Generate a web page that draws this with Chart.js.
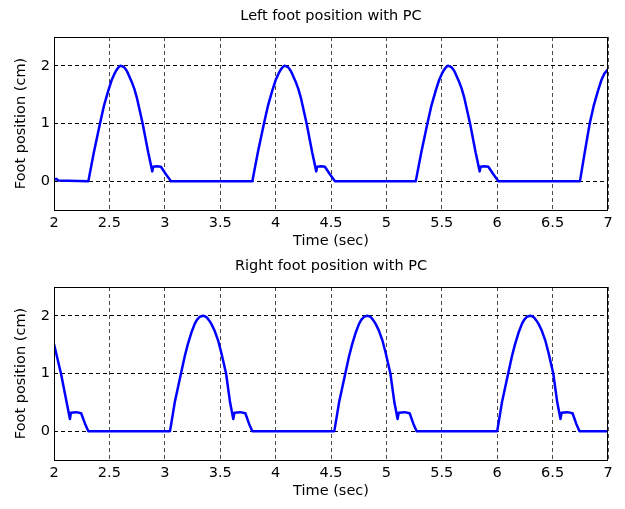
<!DOCTYPE html>
<html>
<head>
<meta charset="utf-8">
<script src="https://cdn.jsdelivr.net/npm/chart.js@4.4.0/dist/chart.umd.min.js"></script>
<style>
  body { margin: 0; background: #fff; }
  .plot { position: absolute; left: 0; width: 625px; height: 250px; }
</style>
</head>
<body>
<div style="position:relative;width:625px;height:509px">
  <div class="plot" style="top:0"><canvas id="leftChart" width="625" height="250"></canvas></div>
  <div class="plot" style="top:250px"><canvas id="rightChart" width="625" height="250"></canvas></div>
</div>
<script>
'use strict';

// tick labels
let xTicks = [2, 2.5, 3, 3.5, 4, 4.5, 5, 5.5, 6, 6.5, 7];
let yTicks = [0, 1, 2];

// left foot (top plot)
let leftTime = [
  2.0, 2.02, 2.04,
  2.31, 2.36, 2.415, 2.45, 2.49, 2.52, 2.545, 2.565, 2.585, 2.60, 2.615, 2.635, 2.655, 2.67, 2.70, 2.725, 2.75,
  2.80, 2.85, 2.887, 2.895, 2.93, 2.965, 3.01, 3.056,
  3.79, 3.84, 3.895, 3.93, 3.97, 4.00, 4.025, 4.045, 4.065, 4.08, 4.095, 4.115, 4.135, 4.15, 4.18, 4.205, 4.23,
  4.28, 4.33, 4.367, 4.375, 4.41, 4.445, 4.49, 4.536,
  5.265, 5.315, 5.37, 5.405, 5.445, 5.475, 5.50, 5.52, 5.54, 5.555, 5.57, 5.59, 5.61, 5.625, 5.655, 5.68, 5.705,
  5.755, 5.805, 5.842, 5.85, 5.885, 5.92, 5.965, 6.011,
  6.747, 6.79, 6.835, 6.87, 6.91, 6.94, 6.965, 7.0
];
let leftPos = [
  0.02, 0.04, 0.01,
  0, 0.5, 1.0, 1.3, 1.57, 1.75, 1.86, 1.93, 1.98, 2.0, 1.995, 1.97, 1.92, 1.86, 1.73, 1.6, 1.43,
  1.0, 0.5, 0.17, 0.25, 0.26, 0.25, 0.12, 0,
  0, 0.5, 1.0, 1.3, 1.57, 1.75, 1.86, 1.93, 1.98, 2.0, 1.995, 1.97, 1.92, 1.86, 1.73, 1.6, 1.43,
  1.0, 0.5, 0.17, 0.25, 0.26, 0.25, 0.12, 0,
  0, 0.5, 1.0, 1.3, 1.57, 1.75, 1.86, 1.93, 1.98, 2.0, 1.995, 1.97, 1.92, 1.86, 1.73, 1.6, 1.43,
  1.0, 0.5, 0.17, 0.25, 0.26, 0.25, 0.12, 0,
  0, 0.5, 1.0, 1.3, 1.57, 1.75, 1.86, 1.94
];

// right foot (bottom plot)
let rightTime = [
  2.0, 2.063, 2.114, 2.144, 2.152, 2.2, 2.245, 2.28, 2.31,
  3.047, 3.09, 3.146, 3.18, 3.207, 3.242, 3.27, 3.29, 3.315, 3.345, 3.36, 3.38, 3.40, 3.42, 3.45, 3.48, 3.51,
  3.553, 3.589, 3.618, 3.628, 3.68, 3.727, 3.76, 3.79,
  4.53, 4.573, 4.629, 4.663, 4.69, 4.725, 4.753, 4.773, 4.798, 4.828, 4.843, 4.863, 4.883, 4.903, 4.933, 4.963, 4.993,
  5.036, 5.072, 5.101, 5.111, 5.163, 5.21, 5.243, 5.273,
  6.0, 6.043, 6.099, 6.133, 6.16, 6.195, 6.223, 6.243, 6.268, 6.298, 6.313, 6.333, 6.353, 6.373, 6.403, 6.433, 6.463,
  6.506, 6.542, 6.571, 6.581, 6.633, 6.68, 6.713, 6.743, 7.0
];
let rightPos = [
  1.51, 1.0, 0.5, 0.21, 0.32, 0.33, 0.31, 0.13, 0,
  0, 0.5, 1.0, 1.3, 1.5, 1.72, 1.86, 1.93, 1.985, 2.0, 1.995, 1.97, 1.92, 1.86, 1.74, 1.58, 1.36,
  1.0, 0.5, 0.21, 0.32, 0.33, 0.31, 0.13, 0,
  0, 0.5, 1.0, 1.3, 1.5, 1.72, 1.86, 1.93, 1.985, 2.0, 1.995, 1.97, 1.92, 1.86, 1.74, 1.58, 1.36,
  1.0, 0.5, 0.21, 0.32, 0.33, 0.31, 0.13, 0,
  0, 0.5, 1.0, 1.3, 1.5, 1.72, 1.86, 1.93, 1.985, 2.0, 1.995, 1.97, 1.92, 1.86, 1.74, 1.58, 1.36,
  1.0, 0.5, 0.21, 0.32, 0.33, 0.31, 0.13, 0, 0
];

let fontFamily = "'DejaVu Sans', sans-serif";
let fontSize = 14.5;

// black frame round the plot area, like matlab's box on
let boxPlugin = {
  id: 'box',
  afterDraw(chart) {
    let a = chart.chartArea;
    let ctx = chart.ctx;
    ctx.save();
    ctx.strokeStyle = '#000';
    ctx.lineWidth = 1;
    ctx.strokeRect(Math.round(a.left) + 0.5, Math.round(a.top) + 0.5,
      Math.round(a.right - a.left) - 1, Math.round(a.bottom - a.top));
    ctx.restore();
  }
};

function makePoints(times, values) {
  let pts = [];
  for (let i = 0; i < times.length; i++) {
    pts.push({ x: times[i], y: values[i] });
  }
  return pts;
}

function footChart(id, title, times, values) {
  let ctx = document.getElementById(id).getContext('2d');
  return new Chart(ctx, {
    type: 'line',
    data: {
      datasets: [{
        data: makePoints(times, values),
        borderColor: '#0000ff',
        borderWidth: 2.5,
        borderJoinStyle: 'round',
        pointRadius: 0,
        tension: 0,
        fill: false
      }]
    },
    options: {
      responsive: false,
      animation: false,
      layout: { padding: { left: 0, right: 17, top: 0, bottom: 0 } },
      plugins: {
        legend: { display: false },
        tooltip: { enabled: false },
        title: {
          display: true,
          text: title,
          fullSize: false,
          color: '#000',
          font: { family: fontFamily, size: fontSize, weight: 'normal' },
          padding: { top: 8, bottom: 11.6 }
        }
      },
      scales: {
        x: {
          type: 'linear',
          min: 2,
          max: 7,
          afterBuildTicks: s => { s.ticks = xTicks.map(v => ({ value: v })); },
          afterFit: s => { s.height = 40; },
          grid: { color: 'rgba(0,0,0,0.7)', lineWidth: 1, drawTicks: false },
          border: { display: false, dash: [4, 3] },
          ticks: {
            autoSkip: false,
            maxRotation: 0,
            padding: 5,
            color: '#000',
            font: { family: fontFamily, size: fontSize },
            callback: v => String(v)
          },
          title: {
            display: true,
            text: 'Time (sec)',
            color: '#000',
            font: { family: fontFamily, size: fontSize },
            padding: { top: 0, bottom: 0 }
          }
        },
        y: {
          min: -0.5,
          max: 2.5,
          afterBuildTicks: s => { s.ticks = yTicks.map(v => ({ value: v })); },
          afterFit: s => { s.width = 54; },
          grid: { color: '#000', lineWidth: 1, drawTicks: false },
          border: { display: false, dash: [4, 3] },
          ticks: {
            padding: 4,
            color: '#000',
            font: { family: fontFamily, size: fontSize },
            callback: v => String(v)
          },
          title: {
            display: true,
            text: 'Foot position (cm)',
            color: '#000',
            font: { family: fontFamily, size: fontSize },
            padding: { top: 12.5, bottom: 0 }
          }
        }
      }
    },
    plugins: [boxPlugin]
  });
}

footChart('leftChart', 'Left foot position with PC', leftTime, leftPos);
footChart('rightChart', 'Right foot position with PC', rightTime, rightPos);
</script>
</body>
</html>
